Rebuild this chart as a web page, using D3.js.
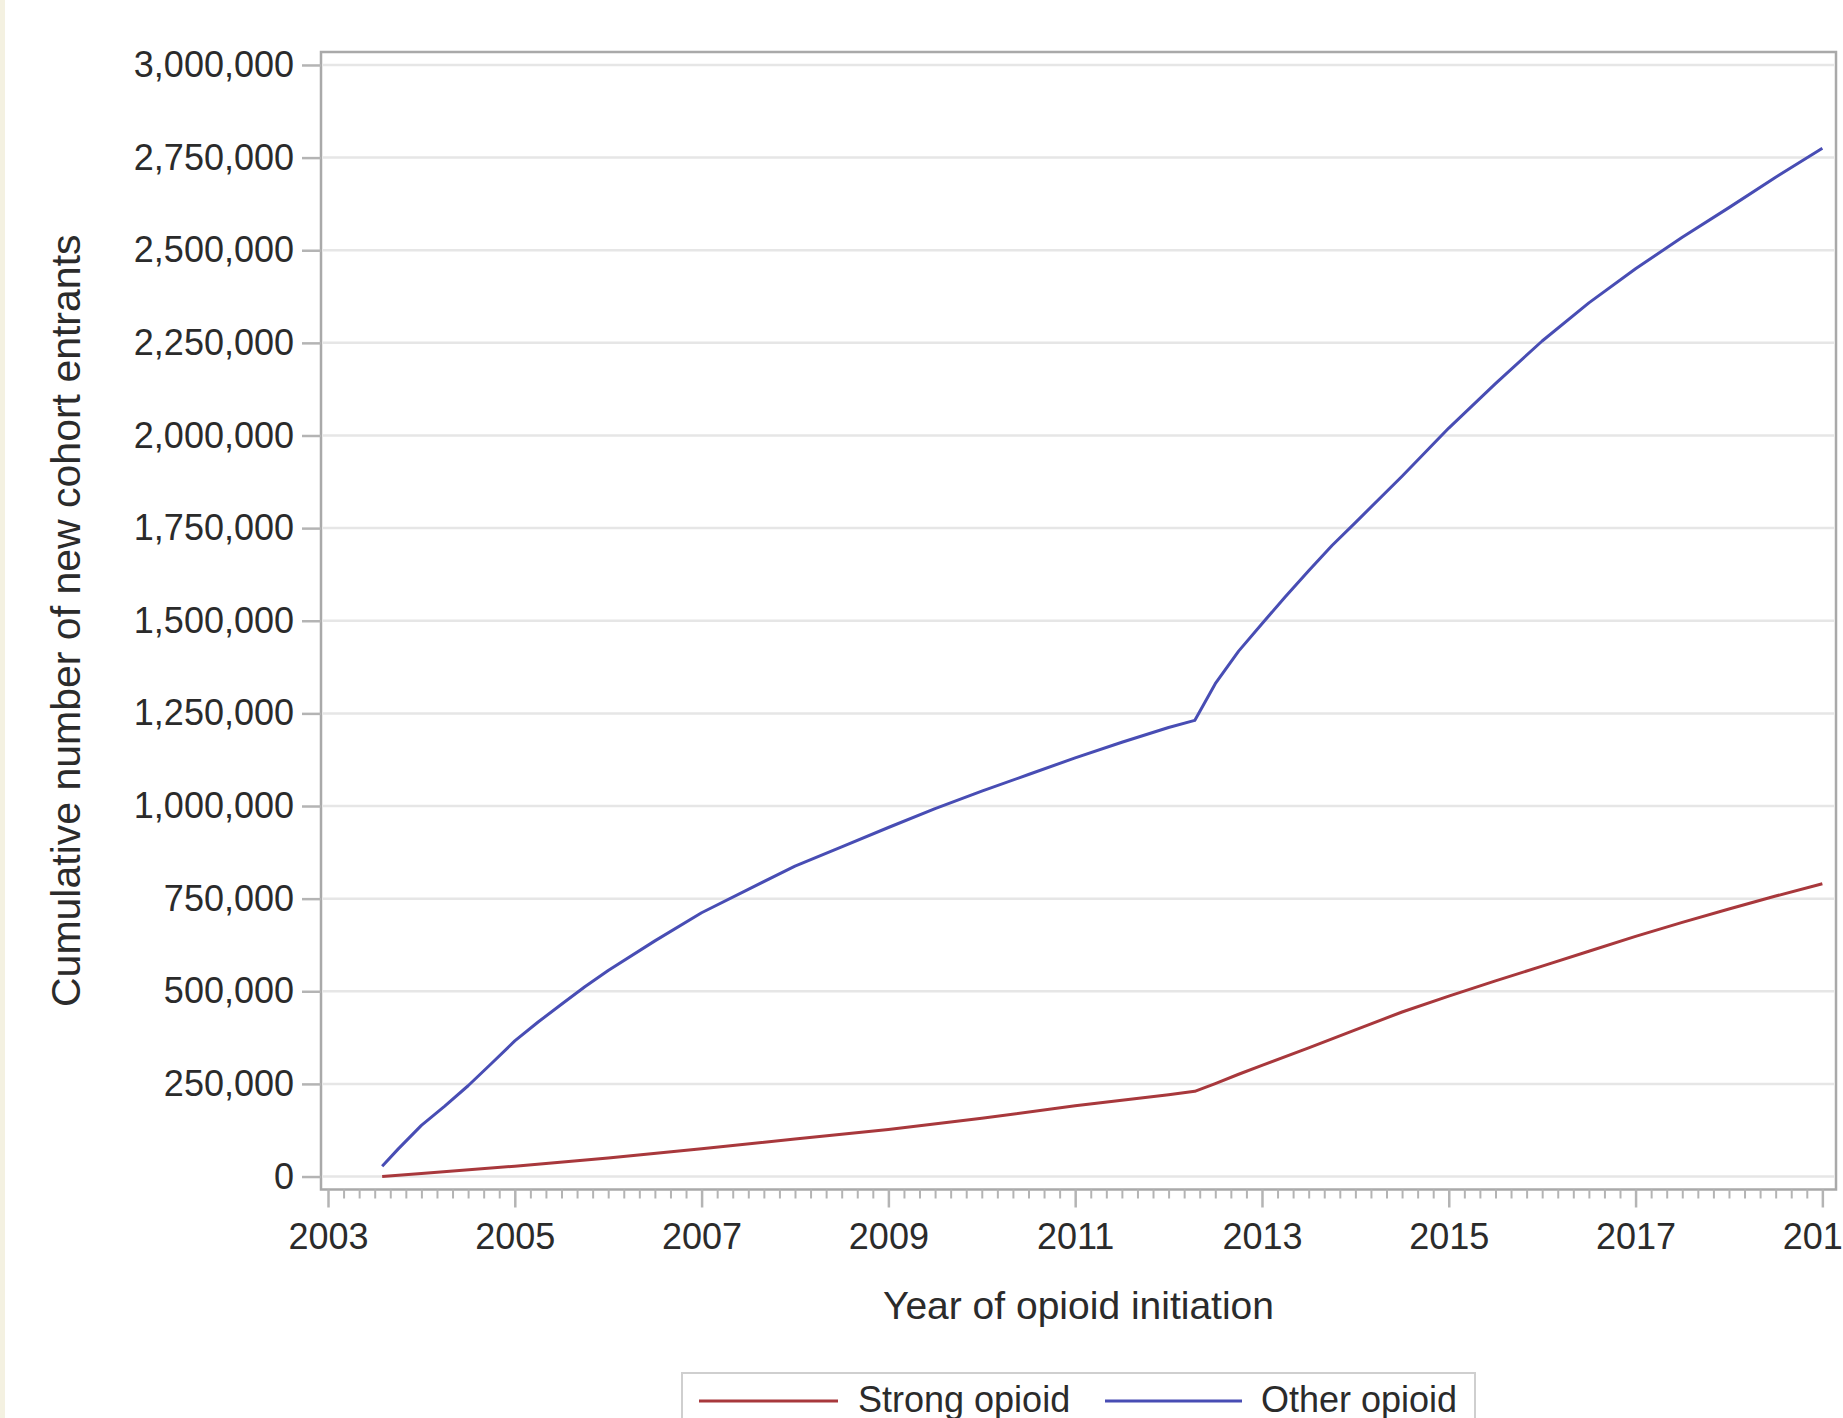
<!DOCTYPE html>
<html>
<head>
<meta charset="utf-8">
<script src="https://cdn.jsdelivr.net/npm/d3@7"></script>
<style>
  html, body { margin: 0; padding: 0; background: #ffffff; }
  svg { display: block; }
  text { font-family: "Liberation Sans", Arial, sans-serif; fill: #2b2b2b; }
</style>
</head>
<body>
<svg id="chart" width="1843" height="1418"></svg>
<script>
// ---- data ----
const otherYears = [2003.58, 2003.75, 2004.0, 2004.25, 2004.5, 2004.75, 2005.0, 2005.25, 2005.5, 2005.75,
  2006.0, 2006.5, 2007.0, 2007.5, 2008.0, 2008.5, 2009.0, 2009.5, 2010.0, 2010.5, 2011.0, 2011.5,
  2012.0, 2012.28, 2012.5, 2012.75, 2013.0, 2013.25, 2013.5, 2013.75, 2014.0, 2014.5, 2015.0, 2015.5,
  2016.0, 2016.5, 2017.0, 2017.5, 2018.0, 2018.5, 2019.0];
const otherValues = [28000, 74000, 138000, 190000, 245000, 305000, 366000, 417000, 465000, 512000,
  556000, 636000, 712000, 775000, 838000, 890000, 942000, 993000, 1040000, 1085000, 1130000, 1172000,
  1212000, 1231000, 1330000, 1418000, 1492000, 1565000, 1635000, 1703000, 1765000, 1890000, 2020000, 2140000,
  2255000, 2358000, 2450000, 2535000, 2615000, 2697000, 2775000];

const strongYears = [2003.58, 2004.0, 2005.0, 2006.0, 2007.0, 2008.0, 2009.0, 2010.0, 2011.0, 2012.0,
  2012.28, 2012.5, 2012.75, 2013.0, 2013.5, 2014.0, 2014.5, 2015.0, 2015.5, 2016.0, 2016.5,
  2017.0, 2017.5, 2018.0, 2018.5, 2019.0];
const strongValues = [0, 8000, 28000, 50000, 75000, 101000, 127000, 157000, 191000, 221000,
  230000, 251000, 276000, 300000, 347000, 396000, 444000, 487000, 528000, 568000, 608000,
  648000, 686000, 722000, 757000, 790000];

const yTicks = [0, 250000, 500000, 750000, 1000000, 1250000, 1500000, 1750000, 2000000, 2250000, 2500000, 2750000, 3000000];
const xTicks = [2003, 2005, 2007, 2009, 2011, 2013, 2015, 2017, 2019];

const seriesNames = ["Strong opioid", "Other opioid"];
const seriesColors = ["#a8383c", "#484db4"];

const xTitle = "Year of opioid initiation";
const yTitle = "Cumulative number of new cohort entrants";

// ---- layout ----
const svg = d3.select("#chart");
const frame = { left: 321, right: 1836, top: 52, bottom: 1189.5 };

svg.append("rect").attr("x", 0).attr("y", 0).attr("width", 1843).attr("height", 1418).attr("fill", "#ffffff");
svg.append("rect").attr("x", 0).attr("y", 0).attr("width", 5).attr("height", 1418).attr("fill", "#f4f1e1");

const x = d3.scaleLinear().domain([2002.925, 2019.146]).range([frame.left, frame.right]);
const y = d3.scaleLinear().domain([-35000, 3035000]).range([frame.bottom, frame.top]);

// gridlines
svg.append("g").selectAll("line").data(yTicks).join("line")
  .attr("x1", frame.left + 2).attr("x2", frame.right - 2)
  .attr("y1", d => y(d)).attr("y2", d => y(d))
  .attr("stroke", "#e6e6e6").attr("stroke-width", 2.5);

// lines
const line = d3.line().x(d => x(d[0])).y(d => y(d[1]));
const strongData = strongYears.map((v, i) => [v, strongValues[i]]);
const otherData = otherYears.map((v, i) => [v, otherValues[i]]);

svg.append("path").datum(strongData).attr("d", line)
  .attr("fill", "none").attr("stroke", seriesColors[0]).attr("stroke-width", 3).attr("stroke-linejoin", "round");
svg.append("path").datum(otherData).attr("d", line)
  .attr("fill", "none").attr("stroke", seriesColors[1]).attr("stroke-width", 3).attr("stroke-linejoin", "round");

// frame
svg.append("rect")
  .attr("x", frame.left).attr("y", frame.top)
  .attr("width", frame.right - frame.left).attr("height", frame.bottom - frame.top)
  .attr("fill", "none").attr("stroke", "#a9a9a9").attr("stroke-width", 2.5);

// y axis
const yAxis = svg.append("g").attr("transform", `translate(${frame.left},0)`)
  .call(d3.axisLeft(y).tickValues(yTicks).tickSize(19).tickPadding(8).tickFormat(d3.format(",")));
yAxis.select(".domain").remove();
yAxis.selectAll(".tick line").attr("stroke", "#b4b4b4").attr("stroke-width", 2.5);
yAxis.selectAll(".tick text").attr("font-size", 36).attr("fill", "#2b2b2b")
  .style("font-family", '"Liberation Sans", Arial, sans-serif');

// x axis minor ticks
const minor = d3.range(0, 16 * 6 + 1).map(i => 2003 + i / 6).filter((d, i) => i % 12 !== 0);
const xMinor = svg.append("g").attr("transform", `translate(0,${frame.bottom})`)
  .call(d3.axisBottom(x).tickValues(minor).tickSize(9).tickFormat(""));
xMinor.select(".domain").remove();
xMinor.selectAll(".tick line").attr("stroke", "#b4b4b4").attr("stroke-width", 2);

// x axis major ticks
const xAxis = svg.append("g").attr("transform", `translate(0,${frame.bottom})`)
  .call(d3.axisBottom(x).tickValues(xTicks).tickSize(18).tickPadding(16).tickFormat(d3.format("d")));
xAxis.select(".domain").remove();
xAxis.selectAll(".tick line").attr("stroke", "#b4b4b4").attr("stroke-width", 2.5);
xAxis.selectAll(".tick text").attr("font-size", 36).attr("fill", "#2b2b2b")
  .style("font-family", '"Liberation Sans", Arial, sans-serif');

// axis titles
svg.append("text").attr("x", (frame.left + frame.right) / 2).attr("y", 1305).attr("dy", "0.35em")
  .attr("text-anchor", "middle").attr("font-size", 39).text(xTitle);
svg.append("text").attr("transform", `translate(66,${(frame.top + frame.bottom) / 2}) rotate(-90)`)
  .attr("dy", "0.35em").attr("text-anchor", "middle").attr("font-size", 41).text(yTitle);

// legend
const legend = svg.append("g");
legend.append("rect").attr("x", 682).attr("y", 1373).attr("width", 793).attr("height", 80)
  .attr("fill", "#ffffff").attr("stroke", "#cfcfcf").attr("stroke-width", 2);
const legendItems = [
  { name: seriesNames[0], color: seriesColors[0], x1: 699, x2: 838, tx: 858 },
  { name: seriesNames[1], color: seriesColors[1], x1: 1105, x2: 1242, tx: 1261 }
];
legendItems.forEach(it => {
  legend.append("line").attr("x1", it.x1).attr("x2", it.x2).attr("y1", 1401).attr("y2", 1401)
    .attr("stroke", it.color).attr("stroke-width", 3);
  legend.append("text").attr("x", it.tx).attr("y", 1399).attr("dy", "0.35em")
    .attr("font-size", 36).text(it.name);
});
</script>
</body>
</html>
